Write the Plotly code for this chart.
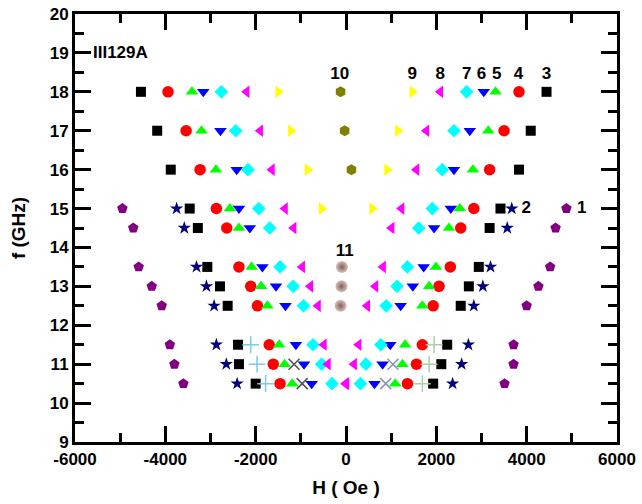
import plotly.graph_objects as go

# ---- data (H in Oe, f in GHz) ----
F_ALL = [18, 17, 16, 15, 14.5, 13.5, 13, 12.5, 11.5, 11, 10.5]
F_LOW = [15, 14.5, 13.5, 13, 12.5, 11.5, 11, 10.5]

# 1 purple pentagons
H1_NEG = [-4950, -4710, -4590, -4300, -4080, -3900, -3800, -3600]
H1_POS = [4880, 4640, 4520, 4260, 4000, 3710, 3710, 3510]
# 2 navy stars
H2_NEG = [-3750, -3580, -3310, -3090, -2920, -2870, -2650, -2410]
H2_POS = [3670, 3570, 3200, 3030, 2830, 2710, 2560, 2360]
# 3 black squares
H3_NEG = [-4540, -4180, -3880, -3460, -3280, -3070, -2790, -2620, -2390, -2370, -2000]
H3_POS = [4440, 4090, 3830, 3420, 3180, 2940, 2720, 2540, 2240, 2110, 1930]
# 4 red circles
H4_NEG = [-3940, -3540, -3230, -2870, -2640, -2370, -2110, -1960, -1700, -1610, -1460]
H4_POS = [3830, 3500, 3180, 2830, 2540, 2310, 2060, 1930, 1690, 1560, 1360]
# 5 green up-triangles
H5_NEG = [-3410, -3200, -2880, -2570, -2370, -2090, -1880, -1740, -1480, -1360, -1190]
H5_POS = [3310, 3150, 2810, 2520, 2280, 1990, 1840, 1690, 1310, 1250, 1090]
# 6 blue down-triangles
H6_NEG = [-3160, -2780, -2420, -2370, -2130, -1850, -1550, -1340, -1110, -930, -760]
H6_POS = [3050, 2740, 2390, 2320, 1950, 1720, 1480, 1210, 980, 810, 630]
# 7 cyan diamonds
H7_NEG = [-2760, -2440, -2170, -1930, -1690, -1460, -1170, -940, -730, -540, -310]
H7_POS = [2670, 2390, 2130, 1910, 1610, 1360, 1130, 890, 770, 440, 320]
# 8 magenta left-triangles
H8_NEG = [-2200, -1900, -1640, -1350, -1160, -970, -790, -620, -490, -400, -10]
H8_POS = [2090, 1780, 1560, 1230, 1010, 820, 650, 470, 280, 180, 10]
# 9 yellow right-triangles
F9 = [18, 17, 16, 15]
H9_NEG = [-1500, -1220, -850, -540]
H9_POS = [1470, 1150, 910, 580]
# 10 olive hexagons
F10 = [18, 17, 16]
H10 = [-120, -30, 120]
# 11 brown spheres
F11 = [13.5, 13, 12.5]
H11 = [-90, -100, -120]
# plus and cross markers (low-frequency rows)
F_PLUS = [11.5, 11, 10.5]
HP_NEG = [-2110, -1970, -1780]
HP_POS = [1950, 1840, 1690]
F_X = [11, 10.5]
HX_NEG = [-1150, -970]
HX_POS = [1040, 880]

# labels
LABELS = ["10", "9", "8", "7", "6", "5", "4", "3", "2", "1", "11"]
LABEL_H = [-140, 1465, 2085, 2675, 3000, 3335, 3820, 4440, 3990, 5220, -30]
LABEL_F = [18.45, 18.45, 18.45, 18.45, 18.45, 18.45, 18.45, 18.45, 15.0, 15.0, 13.88]

X_TICKS = [-6000, -4000, -2000, 0, 2000, 4000, 6000]
X_TICKTEXT = ["-6000", "-4000", "-2000", "0", "2000", "4000", "6000"]
Y_TICKS = list(range(9, 21))

fig = go.Figure()


def both(fvals, neg, pos, symbol, color, size, line=None):
    fig.add_trace(go.Scatter(
        x=neg + pos, y=fvals + fvals, mode="markers",
        marker=dict(symbol=symbol, color=color, size=size,
                    line=line or dict(width=0)),
        showlegend=False, hoverinfo="skip"))


both(F_LOW, H1_NEG, H1_POS, "pentagon", "#800080", 11)
both(F_LOW, H2_NEG, H2_POS, "star", "#000080", 10)
both(F_ALL, H3_NEG, H3_POS, "square", "#000000", 10)
both(F_ALL, H4_NEG, H4_POS, "circle", "#ff0000", 11.5)
both(F_ALL, H5_NEG, H5_POS, "triangle-up", "#00ff00", 11)
both(F_ALL, H6_NEG, H6_POS, "triangle-down", "#0000ff", 11)
both(F_ALL, H7_NEG, H7_POS, "diamond", "#00ffff", 10.5)
both(F_ALL, H8_NEG, H8_POS, "triangle-left", "#ff00ff", 11)
both(F9, H9_NEG, H9_POS, "triangle-right", "#ffff00", 11)

fig.add_trace(go.Scatter(x=H10, y=F10, mode="markers",
                         marker=dict(symbol="hexagon", color="#808000", size=11, line=dict(width=0)),
                         showlegend=False, hoverinfo="skip"))
fig.add_trace(go.Scatter(x=H11, y=F11, mode="markers",
                         marker=dict(symbol="circle", color="#d8c0bc", size=12,
                                     gradient=dict(type="radial", color="#84605a"),
                                     line=dict(width=0)),
                         showlegend=False, hoverinfo="skip"))
# plus markers: light blue on the left, pale green on the right
fig.add_trace(go.Scatter(x=HP_NEG, y=F_PLUS, mode="markers",
                         marker=dict(symbol="cross-thin", size=12, line=dict(width=1.5, color="#7ec8ea")),
                         showlegend=False, hoverinfo="skip"))
fig.add_trace(go.Scatter(x=HP_POS, y=F_PLUS, mode="markers",
                         marker=dict(symbol="cross-thin", size=12, line=dict(width=1.5, color="#a8cfa8")),
                         showlegend=False, hoverinfo="skip"))
fig.add_trace(go.Scatter(x=HX_NEG, y=F_X, mode="markers",
                         marker=dict(symbol="x-thin", size=11, line=dict(width=1.5, color="#505050")),
                         showlegend=False, hoverinfo="skip"))
fig.add_trace(go.Scatter(x=HX_POS, y=F_X, mode="markers",
                         marker=dict(symbol="x-thin", size=11, line=dict(width=1.5, color="#8098b8")),
                         showlegend=False, hoverinfo="skip"))

fig.add_trace(go.Scatter(x=LABEL_H, y=LABEL_F, mode="text", text=LABELS,
                         textfont=dict(family="Liberation Sans", size=17, color="black", weight="bold"),
                         textposition="middle center", showlegend=False, hoverinfo="skip",
                         cliponaxis=False))

fig.add_annotation(x=-5650, y=19.0, xref="x", yref="y", text="III129A", showarrow=False,
                   xanchor="left", yanchor="middle",
                   font=dict(family="Liberation Sans", size=17, color="black", weight="bold"))

axis_font = dict(family="Liberation Sans", size=17, color="black", weight="bold")
title_font = dict(family="Liberation Sans", size=19, color="black", weight="bold")

fig.update_xaxes(range=[-6000, 6000], tickvals=X_TICKS, ticktext=X_TICKTEXT,
                 ticks="inside", ticklen=16, tickwidth=2.5, tickcolor="black",
                 minor=dict(dtick=1000, ticks="inside", ticklen=9, tickwidth=2.5, tickcolor="black"),
                 showline=True, linewidth=3, linecolor="black", mirror="allticks",
                 showgrid=False, zeroline=False, tickfont=axis_font, automargin=False,
                 title=dict(text="H ( Oe )", font=title_font, standoff=13))
fig.update_yaxes(range=[9, 20], tickvals=Y_TICKS,
                 ticks="inside", ticklen=16, tickwidth=2.5, tickcolor="black",
                 minor=dict(dtick=0.5, ticks="inside", ticklen=9, tickwidth=2.5, tickcolor="black"),
                 showline=True, linewidth=3, linecolor="black", mirror="allticks",
                 showgrid=False, zeroline=False, tickfont=axis_font, automargin=False,
                 title=dict(text="f (GHz)", font=title_font, standoff=20))

fig.update_layout(width=642, height=504, margin=dict(l=75, r=25, t=14, b=62, autoexpand=False),
                  plot_bgcolor="white", paper_bgcolor="white")

fig.write_html("out.html", config={"displayModeBar": False},
               post_script="document.body.style.margin='0';document.body.style.padding='0';")
